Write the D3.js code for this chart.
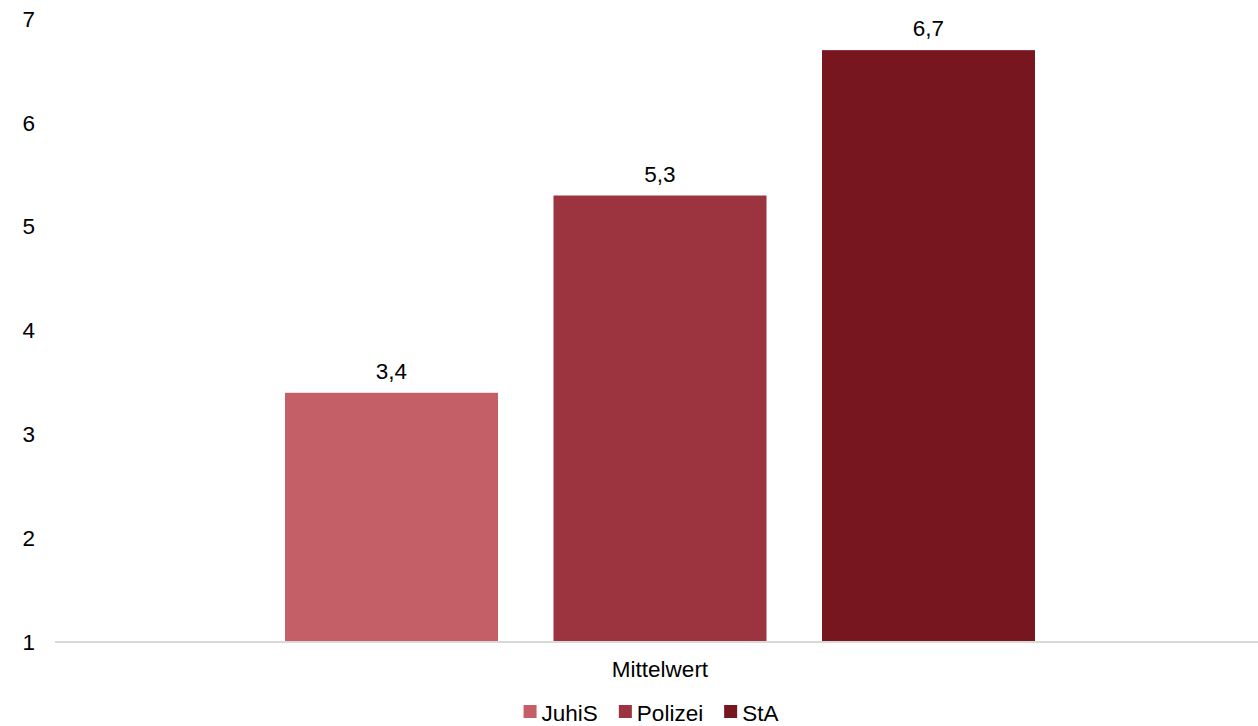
<!DOCTYPE html>
<html>
<head>
<meta charset="utf-8">
<script src="https://cdn.jsdelivr.net/npm/d3@7/dist/d3.min.js"></script>
<style>
  html, body { margin: 0; padding: 0; background: #fff; }
  svg { display: block; font-family: "Liberation Sans", Arial, sans-serif; }
</style>
</head>
<body>
<svg id="chart" width="1258" height="726"></svg>
<script>
// Data
const categories = ["Mittelwert"];
const seriesNames = ["JuhiS", "Polizei", "StA"];
const seriesValues = [3.4, 5.3, 6.7];
const seriesColors = ["#c45f68", "#9b343e", "#78161f"];
const yTicks = [1, 2, 3, 4, 5, 6, 7];

const svg = d3.select("#chart");
const W = 1258;
const FS = 22.5;

// Scales
const y = d3.scaleLinear().domain([1, 7]).range([642, 19]);
const x0 = d3.scaleBand().domain(categories).range([55, 1265]);
const catCenter = x0(categories[0]) + x0.bandwidth() / 2;
const x1 = d3.scaleBand().domain(seriesNames)
  .range([catCenter - 375, catCenter + 375])
  .paddingInner(0.2067).paddingOuter(0);

// Y tick labels
const yAxis = d3.axisLeft(y).tickValues(yTicks).tickSize(0).tickPadding(0)
  .tickFormat(d3.format("d"));
const gy = svg.append("g").attr("transform", "translate(35,0)").call(yAxis);
gy.select(".domain").remove();
gy.selectAll("text").attr("font-size", FS).attr("fill", "#000")
  .attr("font-family", "Liberation Sans, Arial, sans-serif");

// Bars
const data = seriesNames.map((s, i) => ({ name: s, value: seriesValues[i], color: seriesColors[i] }));
svg.append("g").selectAll("rect").data(data).join("rect")
  .attr("x", d => x1(d.name))
  .attr("width", x1.bandwidth())
  .attr("y", d => y(d.value))
  .attr("height", d => y(1) - y(d.value))
  .attr("fill", d => d.color);

// Value labels
const fmt = v => d3.format(".1f")(v).replace(".", ",");
svg.append("g").selectAll("text").data(data).join("text")
  .attr("x", d => x1(d.name) + x1.bandwidth() / 2)
  .attr("y", d => y(d.value) - 14)
  .attr("text-anchor", "middle")
  .attr("font-size", FS)
  .attr("fill", "#000")
  .text(d => fmt(d.value));

// Category axis line
svg.append("line")
  .attr("x1", 55).attr("x2", W)
  .attr("y1", y(1)).attr("y2", y(1))
  .attr("stroke", "#d9d9d9").attr("stroke-width", 2);

// Category label
svg.append("text")
  .attr("x", catCenter).attr("y", 677)
  .attr("text-anchor", "middle")
  .attr("font-size", FS).attr("fill", "#000")
  .text(categories[0]);

// Legend
const legend = svg.append("g");
let lx = 0;
data.forEach((d, i) => {
  const g = legend.append("g").attr("transform", `translate(${lx},0)`);
  g.append("rect").attr("x", 0).attr("y", 705).attr("width", 13).attr("height", 13).attr("fill", d.color);
  const t = g.append("text").attr("x", 18).attr("y", 721)
    .attr("font-size", FS).attr("fill", "#000").text(d.name);
  lx += 18 + t.node().getComputedTextLength() + 21;
});
const legendWidth = lx - 21;
legend.attr("transform", `translate(${catCenter - 9 - legendWidth / 2},0)`);
</script>
</body>
</html>
